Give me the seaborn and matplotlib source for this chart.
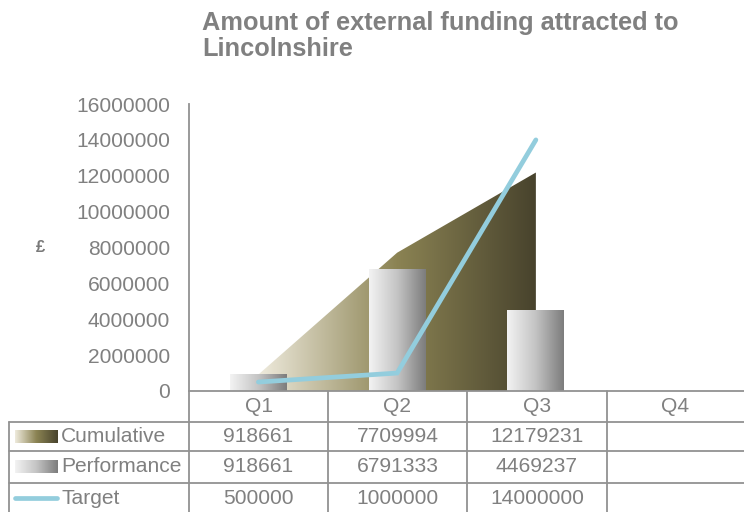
import numpy as np
import pandas as pd
import seaborn as sns
import matplotlib.pyplot as plt
from matplotlib.colors import LinearSegmentedColormap

quarters = ["Q1", "Q2", "Q3", "Q4"]
cumulative = [918661, 7709994, 12179231]
performance = [918661, 6791333, 4469237]
target = [500000, 1000000, 14000000]
row_names = ["Cumulative", "Performance", "Target"]
yticks = list(range(0, 16000001, 2000000))

sns.set_theme(style="white")
plt.rcParams["font.family"] = ["Liberation Sans", "DejaVu Sans"]

grey_txt = "#808080"
line_col = "#929292"
blue = "#93cddd"
fs = 15.1
olive_cmap = LinearSegmentedColormap.from_list("olive", ["#efebdd", "#8b8353", "#48432d"])
bar_cmap = LinearSegmentedColormap.from_list("bars", ["#f3f3f3", "#c4c4c4", "#7c7c7c"])
grad = np.linspace(0, 1, 256).reshape(1, -1)

W, H = 744, 512
fig = plt.figure(figsize=(W / 100, H / 100), dpi=100)
ax = fig.add_axes([189 / W, (H - 391) / H, (W - 189) / W, (391 - 104) / H])
ax.patch.set_alpha(0)

pos = np.arange(len(cumulative))

# cumulative area with horizontal gradient
poly = ax.fill_between(pos, cumulative, facecolor="none", edgecolor="none")
img = ax.imshow(grad, cmap=olive_cmap, aspect="auto", zorder=1,
                extent=(pos[0], pos[-1], 0, max(cumulative)))
img.set_clip_path(poly.get_paths()[0], transform=ax.transData)

# performance bars
df = pd.DataFrame({"quarter": quarters[:3], "value": performance})
sns.barplot(data=df, x="quarter", y="value", order=quarters, width=0.41,
            color="#bbbbbb", ax=ax, zorder=2)
for p in list(ax.patches):
    x0, y0 = p.get_x(), p.get_y()
    w, h = p.get_width(), p.get_height()
    if not np.isfinite(h) or h == 0:
        continue
    ax.imshow(grad, cmap=bar_cmap, aspect="auto", zorder=2,
              extent=(x0, x0 + w, y0, y0 + h))
    p.set_facecolor("none")
    p.set_edgecolor("none")

# target line
sns.lineplot(x=pos, y=target, color=blue, linewidth=3.4, ax=ax, zorder=3,
             solid_capstyle="round", solid_joinstyle="miter")

ax.set_xlim(-0.5, 3.5)
ax.set_ylim(0, 16000000)
ax.set_yticks(yticks)
ax.set_yticklabels([str(v) for v in yticks])
ax.set_xticks([])
ax.set_xlabel("")
ax.set_ylabel("")
ax.tick_params(axis="y", length=0, pad=13.5, labelsize=fs, labelcolor=grey_txt)
for s in ["top", "right", "bottom"]:
    ax.spines[s].set_visible(False)
ax.spines["left"].set_color(line_col)
ax.spines["left"].set_linewidth(1.3)

fig.text(202 / W, 1 - 11 / H, "Amount of external funding attracted to\nLincolnshire",
         ha="left", va="top", fontsize=18.3, fontweight="bold", color=grey_txt,
         linespacing=1.13)
fig.text(40 / W, 1 - 248 / H, "£", ha="center", va="center", fontsize=12,
         fontweight="bold", color="#7a7a7a")

# data table drawn in pixel coordinates
tb = fig.add_axes([0, 0, 1, 1])
tb.set_xlim(0, W)
tb.set_ylim(H, 0)
tb.axis("off")
col_edges = [189, 328, 467, 607, 744]
row_edges = [422, 451, 483]
lw = 1.3
tb.plot([189, 744], [391, 391], color=line_col, lw=lw)
for y in row_edges:
    tb.plot([9, 744], [y, y], color=line_col, lw=lw)
tb.plot([9, 9], [422, 512], color=line_col, lw=lw)
for x in col_edges[:-1]:
    tb.plot([x, x], [391, 512], color=line_col, lw=lw)

centers = [(col_edges[i] + col_edges[i + 1]) / 2 for i in range(4)]
for c, q in zip(centers, quarters):
    tb.text(c, 407, q, ha="center", va="center", fontsize=fs, color=grey_txt)

row_y = [437, 467, 498]
for vals, y in zip([cumulative, performance, target], row_y):
    for c, v in zip(centers, vals):
        tb.text(c, y, str(v), ha="center", va="center", fontsize=fs, color=grey_txt)

for name, y in zip(row_names, row_y):
    tb.text(61, y, name, ha="left", va="center", fontsize=fs, color=grey_txt)

tb.imshow(grad, cmap=olive_cmap, aspect="auto", extent=(15, 58, 443, 430))
tb.imshow(grad, cmap=bar_cmap, aspect="auto", extent=(15, 58, 473, 460))
tb.plot([15, 57], [498, 498], color=blue, lw=3.4, solid_capstyle="round")
tb.set_xlim(0, W)
tb.set_ylim(H, 0)

fig.savefig("out.png", dpi=100)
